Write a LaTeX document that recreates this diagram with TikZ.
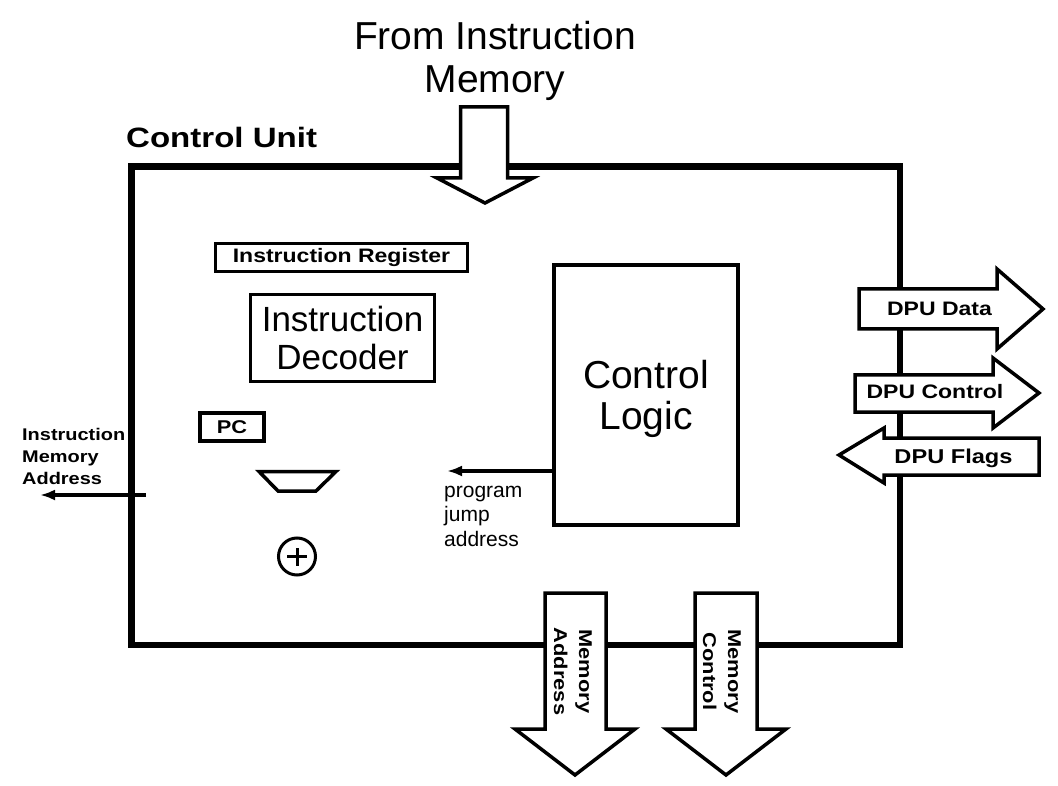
\documentclass[tikz,border=0pt]{standalone}
\usepackage{fontspec}
\setmainfont{Liberation Sans}
\newfontfamily\labfont{Liberation Sans}[FakeStretch=1.18]
\usepackage{tikz}
\usetikzlibrary{arrows.meta,positioning}

\begin{document}
\begin{tikzpicture}[
    x=1pt, y=-1pt,
    box/.style={draw, line width=3.5pt, inner sep=0pt, align=center},
    bigarrow/.style={draw, fill=white, line width=3.5pt, line join=miter},
    sig/.style={line width=3.5pt, -{Latex[length=15pt,width=11pt]}},
    lab/.style={inner sep=0pt, align=center, font=\labfont\bfseries\fontsize{19.5}{25}\selectfont}
]
    \useasboundingbox (0,0) rectangle (1058,786);

    % control unit frame
    \draw[line width=6.5pt] (131.5,166.5) rectangle (900,645);
    \node[anchor=base west, inner sep=0pt, font=\labfont\bfseries\fontsize{28}{32}\selectfont] (cu) at (126,148) {Control Unit};

    % input from instruction memory
    \node[inner sep=0pt, align=center, font=\fontsize{39}{43.5}\selectfont] (title) at (495,61) {From Instruction\\Memory};
    \draw[bigarrow] (460.5,107) -- (507.5,107) -- (507.5,178) -- (533,178) -- (485,203) -- (437,178) -- (460.5,178) -- cycle;

    % inner blocks
    \node[box, minimum width=252, minimum height=28, font=\labfont\bfseries\fontsize{19.5}{22}\selectfont] (ir) at (341.5,257.5) {Instruction Register};
    \node[box, minimum width=184, minimum height=87, font=\fontsize{35}{38.5}\selectfont] (id) at (342.5,338) {Instruction\\Decoder};
    \node[box, minimum width=184, minimum height=260, font=\fontsize{39}{41.5}\selectfont, text depth=0pt] (cl) at (646,395) {Control\\Logic};
    \node[box, minimum width=64, minimum height=28, font=\labfont\bfseries\fontsize{18.5}{22}\selectfont] (pc) at (232,427) {PC};
    \draw[line width=3.5pt, line join=miter] (259,471.5) -- (336,471.5) -- (316,491) -- (278,491) -- cycle;
    \node[circle, draw, line width=3pt, minimum size=37, inner sep=0pt] (add) at (297,556.5) {};
    \draw[line width=3pt] ([xshift=-10pt]add.center) -- ([xshift=10pt]add.center);
    \draw[line width=3pt] ([yshift=-9pt]add.center) -- ([yshift=9pt]add.center);

    % jump address
    \coordinate (pj) at (447,471);
    \draw[sig] (cl.west |- pj) -- (pj);
    \node[anchor=north west, inner sep=0pt, align=left, font=\fontsize{21}{24.5}\selectfont] (pjlab) at (444,485.5) {program\\jump\\address};

    % instruction memory address
    \coordinate (imaS) at (146,495);
    \coordinate (imaE) at (40,495);
    \draw[sig] (imaS) -- (imaE);
    \node[anchor=north west, inner sep=0pt, align=left, font=\labfont\bfseries\fontsize{16.9}{22}\selectfont] (imalab) at (22,427.8) {Instruction\\Memory\\Address};

    % DPU buses
    \draw[bigarrow] (859,289) -- (997,289) -- (997,269) -- (1043,309) -- (997,349) -- (997,329) -- (859,329) -- cycle;
    \node[lab, anchor=base] (dpud) at (939.5,316) {DPU Data};
    \draw[bigarrow] (855,375) -- (993,375) -- (993,358) -- (1039,393) -- (993,428) -- (993,412) -- (855,412) -- cycle;
    \node[lab, anchor=base] (dpuc) at (935,399) {DPU Control};
    \draw[bigarrow] (839,455) -- (884,428) -- (884,438) -- (1039,438) -- (1039,475) -- (884,475) -- (884,483) -- cycle;
    \node[lab, anchor=base, font=\labfont\bfseries\fontsize{20}{25}\selectfont] (dpuf) at (953.5,463.3) {DPU Flags};

    % memory buses
    \draw[bigarrow] (545,593) -- (606,593) -- (606,729) -- (635,729) -- (575,775) -- (515,729) -- (545,729) -- cycle;
    \node[lab, rotate=-90, font=\labfont\bfseries\fontsize{18.5}{25}\selectfont] (madr) at (573,671.5) {Memory\\Address};
    \draw[bigarrow] (695,593) -- (757,593) -- (757,729) -- (786,729) -- (726,775) -- (666,729) -- (695,729) -- cycle;
    \node[lab, rotate=-90, font=\labfont\bfseries\fontsize{18.5}{25}\selectfont] (mctl) at (722,671.5) {Memory\\Control};
\end{tikzpicture}
\end{document}
